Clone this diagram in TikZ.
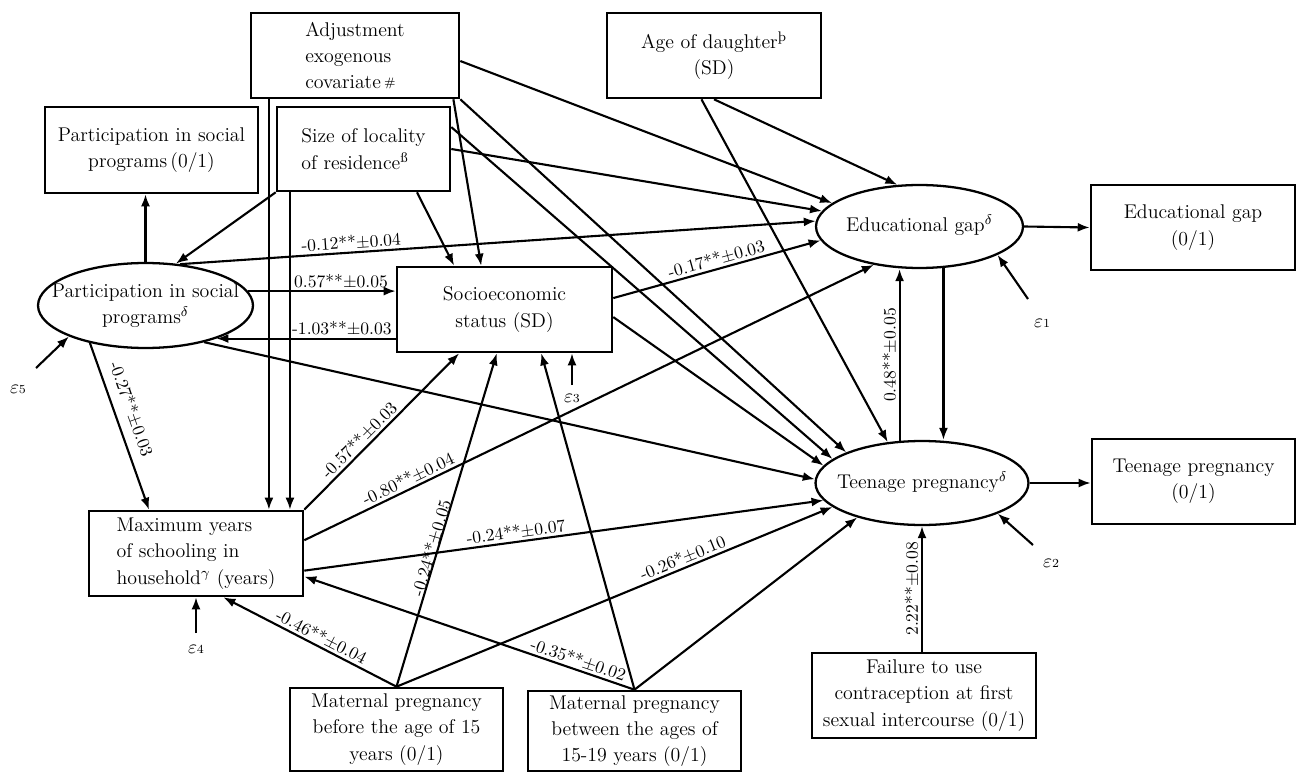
\documentclass[tikz,border=0pt]{standalone}
\usepackage{fontspec}
\usetikzlibrary{shapes}
\usetikzlibrary{arrows.meta}
\tikzset{
    varbox/.style = {rectangle, draw=black, line width=1.5pt, inner sep=2pt, font=\fontsize{11.3}{15}\selectfont},
    latent/.style = {ellipse, draw=black, line width=1.3pt, inner sep=0pt, font=\fontsize{11.3}{15}\selectfont},
    edgen/.style = {-{Latex[length=2.4mm,width=1.8mm]}, line width=1.2pt},
    coef/.style = {sloped, above, inner sep=1.5pt, font=\fontsize{10}{12}\selectfont},
    errlab/.style = {inner sep=1pt, font=\fontsize{11}{13}\selectfont}
}
% text of a latent variable, kept out of the ellipse size
\newcommand{\lattext}[1]{\makebox[0pt]{\begin{tabular}{@{}c@{}}#1\end{tabular}}}

\begin{document}
\begin{tikzpicture}[x=0.02cm, y=-0.02cm]
\useasboundingbox (0,0) rectangle (1297,773);

% observed variables
\node[varbox, minimum width=4.16cm, minimum height=1.7cm, align=left] at (355,55.5) (adj) {Adjustment\\exogenous\\covariate\,\raisebox{0.25ex}{\scriptsize\#}};
\node[varbox, minimum width=4.28cm, minimum height=1.7cm, align=center] at (714,55.5) (age) {Age of daughter\textsuperscript{þ}\\(SD)};
\node[varbox, minimum width=4.26cm, minimum height=1.72cm, align=center] at (151.5,150) (pbox) {Participation in social\\programs\,(0/1)};
\node[varbox, minimum width=3.46cm, minimum height=1.68cm, align=left] at (363.5,149) (size) {Size of locality\\of residence\textsuperscript{ß}};
\node[varbox, minimum width=4.3cm, minimum height=1.7cm, align=center] at (504.5,309.5) (socio) {Socioeconomic\\status (SD)};
\node[varbox, minimum width=4.08cm, minimum height=1.7cm, align=center] at (1193,227.5) (edubox) {Educational gap\\(0/1)};
\node[varbox, minimum width=4.06cm, minimum height=1.7cm, align=center] at (1193.5,481.5) (tbox) {Teenage pregnancy\\(0/1)};
\node[varbox, minimum width=4.28cm, minimum height=1.7cm, align=left] at (196,553.5) (maxbox) {Maximum years\\of schooling in\\household$^{\gamma}$ (years)};
\node[varbox, minimum width=4.26cm, minimum height=1.66cm, align=center] at (396.5,729.5) (mat1) {Maternal pregnancy\\before the age of 15\\years (0/1)};
\node[varbox, minimum width=4.26cm, minimum height=1.6cm, align=center] at (634.5,731) (mat2) {Maternal pregnancy\\between the ages of\\15-19 years (0/1)};
\node[varbox, minimum width=4.48cm, minimum height=1.7cm, align=center] at (924,695.5) (fail) {Failure to use\\contraception at first\\sexual intercourse (0/1)};

% latent variables
\node[latent, minimum width=4.3cm, minimum height=1.7cm] at (145.5,305.5) (part) {\lattext{Participation in social\\programs$^{\delta}$}};
\node[latent, minimum width=4.14cm, minimum height=1.66cm] at (919.5,226.5) (edu) {\lattext{Educational gap$^{\delta}$}};
\node[latent, minimum width=4.26cm, minimum height=1.68cm] at (922,483) (teen) {\lattext{Teenage pregnancy$^{\delta}$}};

% errors
\node[errlab] at (1042,323) (eps1) {$\varepsilon$\scriptsize1};
\node[errlab] at (1051,563) (eps2) {$\varepsilon$\scriptsize2};
\node[errlab] at (572,398) (eps3) {$\varepsilon$\scriptsize3};
\node[errlab] at (196,649) (eps4) {$\varepsilon$\scriptsize4};
\node[errlab] at (18,389) (eps5) {$\varepsilon$\scriptsize5};
\coordinate (e1) at (1028,299);
\coordinate (e2) at (1033,545);
\coordinate (e3) at (572,385);
\coordinate (e4) at (196,633);
\coordinate (e5) at (36,368);

% covariates
\draw[edgen] (adj.south -| maxbox.31) -- (maxbox.31);
\draw[edgen] (adj.336) -- (socio.118);
\draw[edgen] (adj.south east) -- (teen.158);
\draw[edgen] (adj.-3) -- (edu.165);
\draw[edgen] (size.south -| maxbox.25) -- (maxbox.25);
\draw[edgen] (size.south west) -- (part.54);
\draw[edgen] (size.-39) -- (socio.139);
\draw[edgen] (size.14) -- (teen.165);
\draw[edgen] (size.east) -- (edu.171);
\draw[edgen] (age.south) -- (edu.118);
\draw[edgen] (age.254) -- (teen.130);

% participation
\draw[edgen] (part.north) -- (part.north |- pbox.south);
\draw[edgen] (part.50) -- (edu.177) node[coef, pos=.27] {-0.12**±0.04};
\draw[edgen] (part.8) -- (part.8 -| socio.west) node[coef, pos=.63] {0.57**±0.05};
\draw[edgen] (socio.west |- part.335) -- (part.335) node[coef, pos=.3] {-1.03**±0.03};
\draw[edgen] (part.328) -- (teen.178);
\draw[edgen] (part.214) -- (maxbox.137) node[coef, pos=.43, above=4pt] {-0.27**±0.03};

% socioeconomic status
\draw[edgen] (socio.6) -- (edu.188) node[coef, pos=.51] {-0.17**±0.03};
\draw[edgen] (socio.-4) -- (teen.170);

% schooling
\draw[edgen] (maxbox.north east) -- (socio.224) node[coef, pos=.4] {-0.57**±0.03};
\draw[edgen] (maxbox.7) -- (edu.220) node[coef, pos=.19] {-0.80**±0.04};
\draw[edgen] (maxbox.-9) -- (teen.190) node[coef, pos=.41] {-0.24**±0.07};

% maternal pregnancy
\draw[edgen] (mat1.north) -- (maxbox.302) node[coef, pos=.46] {-0.46**±0.04};
\draw[edgen] (mat1.north) -- (socio.260) node[coef, pos=.41, above=-2pt] {-0.24**±0.05};
\draw[edgen] (mat1.north) -- (teen.195) node[coef, pos=.665] {-0.26*±0.10};
\draw[edgen] (mat2.north) -- (maxbox.-12) node[coef, pos=.18] {-0.35**±0.02};
\draw[edgen] (mat2.north) -- (socio.310);
\draw[edgen] (mat2.north) -- (teen.208);

% outcomes
\draw[edgen] (edu.east) -- (edubox.west);
\draw[edgen] (teen.east) -- (teen.east -| tbox.west);
\draw[edgen] (edu.300) -- (edu.300 |- teen.north);
\draw[edgen] (teen.118) -- (teen.118 |- edu.south) node[coef, pos=.5] {0.48**±0.05};
\draw[edgen] (teen.south |- fail.north) -- (teen.south) node[coef, pos=.5] {2.22**±0.08};

% error terms
\draw[edgen] (e1) -- (edu.340);
\draw[edgen] (e2) -- (teen.338);
\draw[edgen] (e3) -- (e3 |- socio.south);
\draw[edgen] (e4) -- (e4 |- maxbox.south);
\draw[edgen] (e5) -- (part.202);
\end{tikzpicture}
\end{document}
